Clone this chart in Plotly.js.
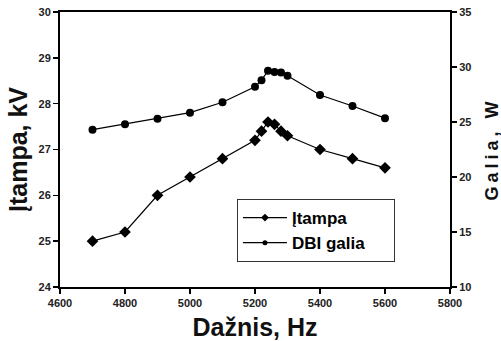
<!DOCTYPE html>
<html>
<head>
<meta charset="utf-8">
<script src="https://cdn.plot.ly/plotly-3.0.1.min.js"></script>
<style>
  html, body { margin: 0; padding: 0; background: #fff; }
  #chart { width: 501px; height: 341px; }
</style>
</head>
<body>
<div id="chart"></div>
<script>
// Frequency sweep, Hz
const freqHz = [4700, 4800, 4900, 5000, 5100, 5200, 5220, 5240, 5260, 5280, 5300, 5400, 5500, 5600];
// Supply voltage, kV (left axis)
const voltageKV = [25.0, 25.2, 26.0, 26.4, 26.8, 27.2, 27.4, 27.6, 27.55, 27.4, 27.3, 27.0, 26.8, 26.6];
// DBI discharge power, W (right axis)
const powerW = [24.3, 24.8, 25.3, 25.85, 26.8, 28.2, 28.8, 29.65, 29.55, 29.5, 29.2, 27.45, 26.45, 25.35];
// Legend labels
const seriesNames = ['Įtampa', 'DBI galia'];

const fontFam = '"Liberation Sans", Arial, sans-serif';
const nb = '\u00a0';
const pad = nb.repeat(5);

const lineStyle = { color: '#000', width: 1.2 };

const traces = [
  // data series (legend entries are drawn by the key traces below with smaller symbols)
  {
    x: freqHz, y: voltageKV, yaxis: 'y', showlegend: false,
    mode: 'lines+markers', line: lineStyle,
    marker: { symbol: 'diamond', size: 9, color: '#000' }
  },
  {
    x: freqHz, y: powerW, yaxis: 'y2', showlegend: false,
    mode: 'lines+markers', line: lineStyle,
    marker: { symbol: 'circle', size: 8, color: '#000' }
  },
  // legend keys
  {
    x: [null], y: [null], yaxis: 'y', name: '<b>' + seriesNames[0] + '</b>' + pad,
    mode: 'lines+markers', line: lineStyle,
    marker: { symbol: 'diamond', size: 6, color: '#000' }
  },
  {
    x: [null], y: [null], yaxis: 'y2', name: '<b>' + seriesNames[1] + '</b>' + pad,
    mode: 'lines+markers', line: lineStyle,
    marker: { symbol: 'circle', size: 5, color: '#000' }
  }
];

const tickFont = { family: fontFam, size: 11, color: '#222', weight: 'bold' };
const titleFont = { family: fontFam, size: 25, color: '#111', weight: 'bold' };
const rightTitleFont = { family: fontFam, size: 18, color: '#111', weight: 'bold' };

const layout = {
  width: 501, height: 341,
  margin: { l: 60, r: 51, t: 12, b: 54 },
  paper_bgcolor: '#fff', plot_bgcolor: '#fff',
  showlegend: true,
  legend: {
    x: 0.4538, y: 0.32, xanchor: 'left', yanchor: 'top',
    bgcolor: '#fff', bordercolor: '#333', borderwidth: 1,
    font: { family: fontFam, size: 17, color: '#000' },
    itemwidth: 44
  },
  xaxis: {
    range: [4600, 5800], dtick: 200, tick0: 4600,
    showgrid: false, zeroline: false,
    showline: true, linecolor: '#000', linewidth: 2, mirror: true,
    ticks: 'outside', ticklen: 5, tickcolor: '#000', tickwidth: 1.5,
    tickfont: tickFont,
    title: { text: 'Dažnis, Hz' + nb, font: titleFont, standoff: 15 }
  },
  yaxis: {
    range: [24, 30], dtick: 1,
    showgrid: false, zeroline: false,
    showline: true, linecolor: '#000', linewidth: 2,
    ticks: 'outside', ticklen: 5, tickcolor: '#000', tickwidth: 1.5,
    tickfont: tickFont,
    title: { text: nb + 'Įtampa, kV', font: titleFont, standoff: 4 }
  },
  yaxis2: {
    range: [10, 35], dtick: 5, overlaying: 'y', side: 'right',
    showgrid: false, zeroline: false,
    showline: true, linecolor: '#000', linewidth: 2,
    ticks: 'outside', ticklen: 5, tickcolor: '#000', tickwidth: 1.5,
    tickfont: tickFont
  },
  // right-axis title: narrow, widely spaced lettering close to the page edge
  annotations: [{
    text: '<span style="letter-spacing:4px">Galia, W</span>', textangle: -90, font: rightTitleFont,
    xref: 'paper', yref: 'paper', x: 1, y: 0.5,
    xanchor: 'left', yanchor: 'middle', xshift: 29, yshift: 0,
    showarrow: false
  }]
};

Plotly.newPlot('chart', traces, layout, { displayModeBar: false, staticPlot: true });
</script>
</body>
</html>
